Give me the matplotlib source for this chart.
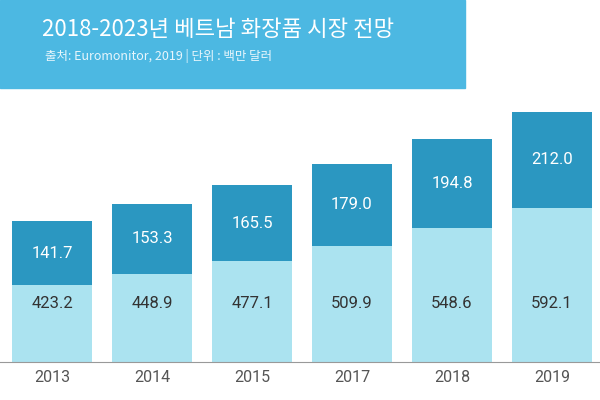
import matplotlib
matplotlib.use("Agg")
import matplotlib.pyplot as plt
from matplotlib.patches import Rectangle

years = ["2013", "2014", "2015", "2017", "2018", "2019"]
base_vals = [423.2, 448.9, 477.1, 509.9, 548.6, 592.1]
top_vals = [141.7, 153.3, 165.5, 179.0, 194.8, 212.0]
title = "2018-2023년 베트남 화장품 시장 전망"
subtitle = "출처: Euromonitor, 2019 | 단위 : 백만 달러"
kfont = ["Noto Sans CJK KR", "Noto Sans CJK JP", "Noto Sans CJK SC", "DejaVu Sans"]

fig = plt.figure(figsize=(6, 4), dpi=100)
ax = fig.add_axes([0, 0.095, 1, 0.905])
x = list(range(len(years)))
ax.bar(x, base_vals, width=0.8, color="#abe3f0")
ax.bar(x, top_vals, width=0.8, bottom=base_vals, color="#2b97c1")
ax.set_xlim(-0.52, 5.48)
ax.set_ylim(255, 1049)
for i in x:
    ax.text(i, 384, f"{base_vals[i]:.1f}", ha="center", va="center",
            fontsize=12, color="#333333", family="Roboto")
    ax.text(i, base_vals[i] + top_vals[i] / 2, f"{top_vals[i]:.1f}", ha="center", va="center",
            fontsize=12, color="#ffffff", family="Roboto")
for s in ["top", "right", "left"]:
    ax.spines[s].set_visible(False)
ax.spines["bottom"].set_color("#999999")
ax.set_yticks([])
ax.set_xticks(x)
ax.set_xticklabels(years, fontsize=11.5, color="#555555", family="Roboto")
ax.tick_params(axis="x", length=0, pad=6)

fig.patches.append(Rectangle((0, 0.78), 0.775, 0.22, transform=fig.transFigure,
                             color="#4cb8e2", zorder=5))
fig.text(0.07, 0.925, title, fontsize=16, color="white", family=kfont,
         va="center", zorder=6)
fig.text(0.075, 0.86, subtitle, fontsize=9, color="#e8f6fc", family=kfont,
         va="center", zorder=6)
fig.savefig("out.png", dpi=100)
